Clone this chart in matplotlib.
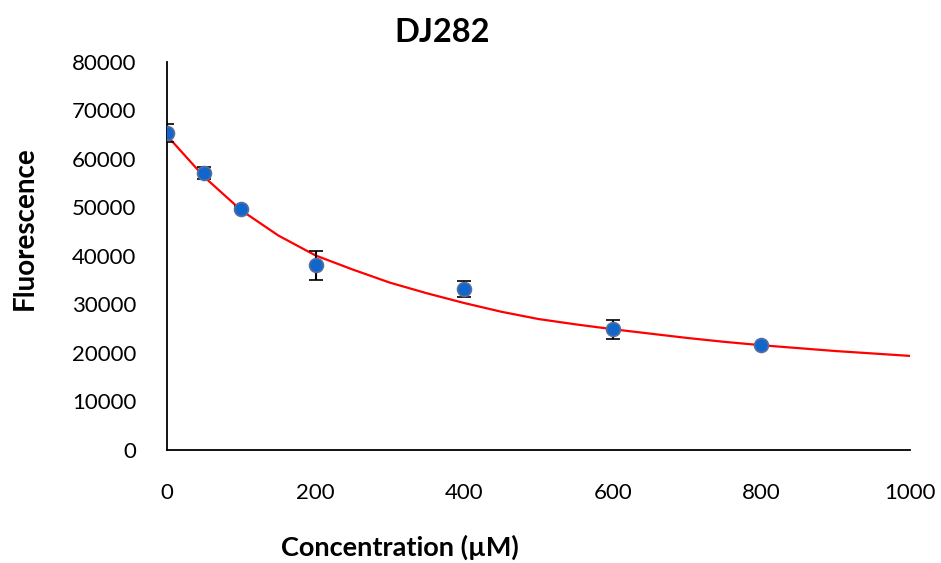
import matplotlib
matplotlib.use("Agg")
import matplotlib.pyplot as plt

plt.rcParams['font.family'] = ['Lato', 'DejaVu Sans']

# measured data
conc = [0, 50, 100, 200, 400, 600, 800]
fluor = [65300, 57100, 49700, 38100, 33200, 24900, 21600]
err = [1900, 1200, 500, 3000, 1600, 2000, 300]

# fitted curve
fit_x = [0, 50, 100, 150, 200, 250, 300, 350, 400, 450, 500, 550, 600, 650,
         700, 750, 800, 850, 900, 950, 1000]
fit_y = [64800, 56300, 49400, 44200, 40100, 37200, 34500, 32300, 30300, 28500,
         27000, 25900, 24900, 24000, 23100, 22300, 21600, 21000, 20400, 19900, 19400]

xticks = [0, 200, 400, 600, 800, 1000]
yticks = [0, 10000, 20000, 30000, 40000, 50000, 60000, 70000, 80000]

fig = plt.figure(figsize=(9.41, 5.63), dpi=100)
ax = fig.add_axes([0.1775, 0.2007, 0.7895, 0.6893])

ax.plot(fit_x, fit_y, color='#FF0000', lw=1.6, zorder=2)
ax.errorbar(conc, fluor, yerr=err, fmt='o', color='#1166CC', ecolor='black',
            elinewidth=1.5, capsize=5, capthick=1.5, markersize=10,
            markeredgecolor='#5A6E9E', markeredgewidth=1.2, zorder=3)

ax.set_xlim(0, 1000)
ax.set_ylim(0, 80000)
ax.set_xticks(xticks)
ax.set_yticks(yticks)
ax.tick_params(length=0, labelsize=16)
ax.tick_params(axis='x', pad=24)
ax.tick_params(axis='y', pad=22)
for s in ['top', 'right']:
    ax.spines[s].set_visible(False)
for s in ['left', 'bottom']:
    ax.spines[s].set_color('black')
    ax.spines[s].set_linewidth(1.3)

fig.text(442 / 941, 1 - 32 / 563, 'DJ282', fontsize=23.5, fontweight='bold',
         ha='center', va='center')
fig.text(400 / 941, 1 - 547 / 563, 'Concentration (µM)', fontsize=19.5,
         fontweight='bold', ha='center', va='center')
fig.text(25 / 941, 1 - 228 / 563, 'Fluorescence', fontsize=20,
         fontweight='bold', ha='center', va='center', rotation=90)

fig.savefig('out.png', dpi=100)
